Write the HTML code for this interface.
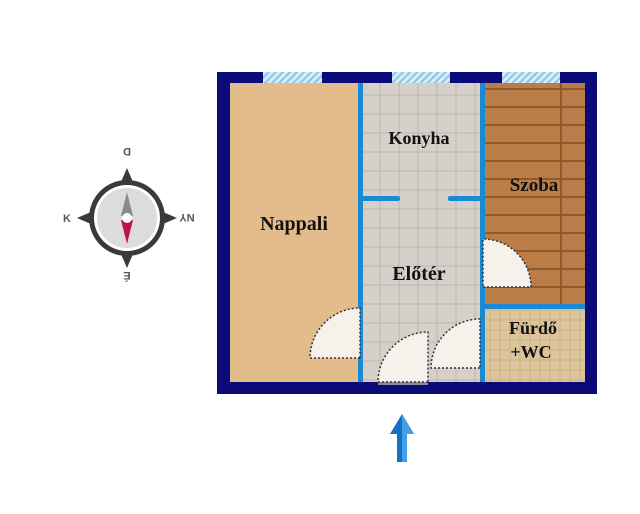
<!DOCTYPE html><html><head><style>body{margin:0;background:#fff}</style></head><body>
<svg width="640" height="509" viewBox="0 0 640 509" xmlns="http://www.w3.org/2000/svg" font-family="Liberation Serif, serif" font-weight="bold">
<defs>
<pattern id="tile" width="19" height="19" patternUnits="userSpaceOnUse"><rect width="19" height="19" fill="#d6d0ca"/><rect width="19" height="19" fill="none" stroke="#bdb6ae" stroke-width="1"/></pattern>
<pattern id="ftile" width="10" height="10" patternUnits="userSpaceOnUse"><rect width="10" height="10" fill="#dcc59c"/><rect width="10" height="10" fill="none" stroke="#c9ad80" stroke-width="0.8"/></pattern>
<pattern id="wood" width="100" height="18" patternUnits="userSpaceOnUse"><rect width="100" height="18" fill="#bb7d48"/><rect y="16" width="100" height="2" fill="#8e5a2f"/><rect x="60" width="2" height="18" fill="#8e5a2f"/></pattern>
<pattern id="win" width="5" height="5" patternUnits="userSpaceOnUse" patternTransform="rotate(45)"><rect width="5" height="5" fill="#d8ecf8"/><rect width="2" height="5" fill="#8cc4e4"/></pattern>
</defs>
<rect x="217" y="72" width="380" height="322" fill="#0a0a78"/>
<rect x="230" y="83" width="130" height="299" fill="#e2bd8b"/>
<rect x="360" y="83" width="122" height="299" fill="url(#tile)"/>
<rect x="482" y="83" width="103" height="224" fill="url(#wood)"/>
<rect x="482" y="307" width="103" height="75" fill="url(#ftile)"/>
<rect x="263" y="72" width="59" height="11" fill="url(#win)"/>
<rect x="392" y="72" width="58" height="11" fill="url(#win)"/>
<rect x="502" y="72" width="58" height="11" fill="url(#win)"/>
<g fill="#1a8ad4">
<rect x="358" y="83" width="5" height="299"/>
<rect x="480" y="83" width="5" height="299"/>
<rect x="482" y="304" width="103" height="5"/>
<rect x="360" y="196" width="40" height="5" rx="2"/>
<rect x="448" y="196" width="34" height="5" rx="2"/>
</g>
<rect x="378" y="380" width="50" height="5" fill="#8a8a9a"/>
<g fill="#f6f1ea" stroke="#333" stroke-width="1.5" stroke-dasharray="2,2">
<path d="M360 358 L310 358 A50 50 0 0 1 360 308 Z"/>
<path d="M483 287 L531 287 A48 48 0 0 0 483 239 Z"/>
<path d="M428 382 L378 382 A50 50 0 0 1 428 332 Z"/>
<path d="M480 368 L431 368 A49 49 0 0 1 480 319 Z"/>
</g>
<g fill="#111" text-anchor="middle">
<text x="294" y="230" font-size="20">Nappali</text>
<text x="419" y="144" font-size="18">Konyha</text>
<text x="419" y="280" font-size="20">Előtér</text>
<text x="534" y="191" font-size="19">Szoba</text>
<text x="533" y="334" font-size="18">Fürdő</text>
<text x="531" y="358" font-size="18">+WC</text>
</g>
<g>
<polygon points="127,168 142,203 177,218 142,233 127,268 112,233 77,218 112,203" fill="#3a3a3a"/>
<circle cx="127" cy="218" r="38" fill="#3a3a3a"/>
<circle cx="127" cy="218" r="33" fill="#fff"/>
<circle cx="127" cy="218" r="30" fill="#dcdcdc"/>
<polygon points="127,192 121,216 133,216" fill="#8a8a8a"/>
<polygon points="127,244 121,220 133,220" fill="#c0104a"/>
<circle cx="127" cy="218" r="5" fill="#fff"/>
<g fill="#555" font-family="Liberation Sans, sans-serif" font-weight="bold" font-size="11" text-anchor="middle">
<text x="127" y="156" transform="rotate(180 127 152)">D</text>
<text x="67" y="222">K</text>
<text x="187" y="222" transform="rotate(180 187 218)">NY</text>
<text x="127" y="280" transform="rotate(180 127 276)">É</text>
</g>
</g>
<polygon points="402,414 390,434 397,434 397,462 407,462 407,434 414,434" fill="#1570c8"/>
<polygon points="402,414 402,462 407,462 407,434 414,434" fill="#3fa0e8"/>
</svg>
</body></html>
